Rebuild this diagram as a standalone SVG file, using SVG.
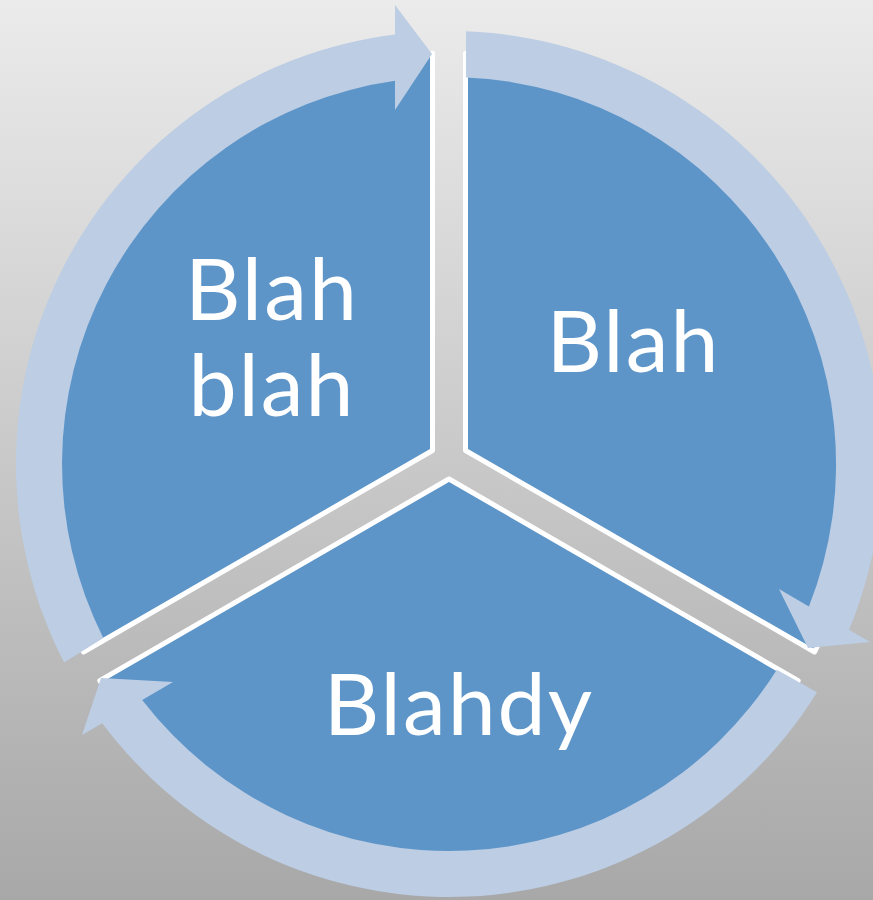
<svg xmlns="http://www.w3.org/2000/svg" width="873" height="900" viewBox="0 0 873 900">
  <defs>
    <linearGradient id="bg" x1="0" y1="0" x2="0" y2="1">
      <stop offset="0" stop-color="#ebebeb"/>
      <stop offset="1" stop-color="#a8a8a8"/>
    </linearGradient>
  </defs>
  <style>
    .sector { fill: #5e95c8; stroke: #ffffff; stroke-width: 5; stroke-linejoin: round; }
    .arrow { fill: #bccde4; stroke: none; }
    .label { font-family: Lato, "Liberation Sans", sans-serif; font-size: 86px; letter-spacing: 2px; fill: #ffffff; text-anchor: middle; }
  </style>
  <rect x="0" y="0" width="873" height="900" fill="url(#bg)"/>

  <g id="node-blah-blah">
    <path class="sector" d="M 432.5 450.5 L 432.5 53.3 A 411 411 0 0 0 83.5 652 Z"/>
    <text class="label" x="272" y="320">Blah</text>
    <text class="label" x="272" y="416">blah</text>
  </g>
  <g id="node-blah">
    <path class="sector" d="M 465.5 450.5 L 465.5 53.3 A 411 411 0 0 1 814.5 652 Z"/>
    <text class="label" x="633.5" y="372">Blah</text>
  </g>
  <g id="node-blahdy">
    <path class="sector" d="M 449 479 L 798.2 680.7 A 411 411 0 0 1 99.8 680.7 Z"/>
    <text class="label" x="459" y="735">Blahdy</text>
  </g>

  <g id="connectors">
    <path class="arrow" d="M 64.2 662.6 A 433 433 0 0 1 395 34.4 L 395 5 L 432 54 L 395 110 L 395 80.8 A 387 387 0 0 0 103.3 637.9 Z"/>
    <path class="arrow" d="M 466 31.3 A 433 433 0 0 1 849 629.8 L 870 642 L 808 648 L 779 589 L 808.9 606.4 A 387 387 0 0 0 466 77.4 Z"/>
    <path class="arrow" d="M 817 692.2 A 433 433 0 0 1 102.2 723.2 L 82 735 L 101 678 L 173 682 L 142.2 699.9 A 387 387 0 0 0 776.8 669.7 Z"/>
  </g>
</svg>
